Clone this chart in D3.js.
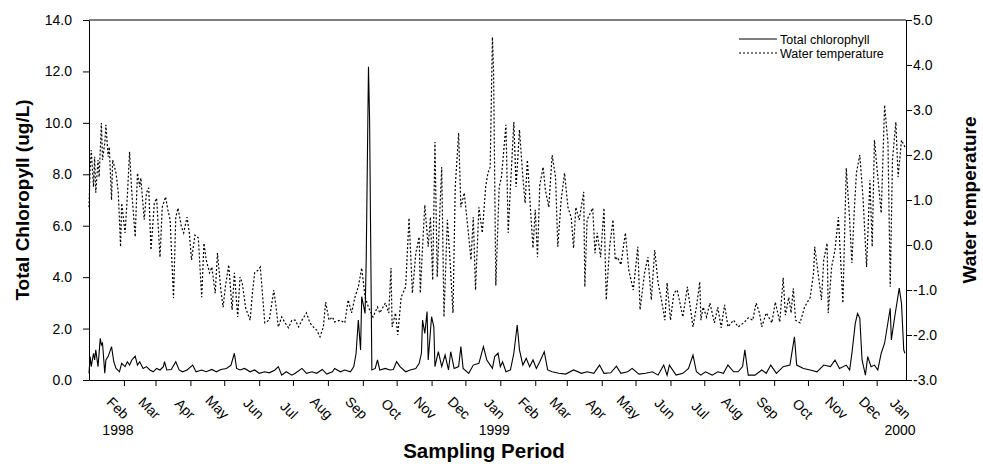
<!DOCTYPE html>
<html>
<head>
<meta charset="utf-8">
<script src="https://cdn.jsdelivr.net/npm/d3@7"></script>
<style>
    html, body { margin: 0; padding: 0; background: #fff; }
    #chart { width: 983px; height: 464px; }
    text { font-family: "Liberation Sans", Arial, sans-serif; fill: #000; }
</style>
</head>
<body>
<div id="chart"></div>
<script>
// day = days since 1998-01-01
const waterTemp = [
    [0,0.84],[1,1.67],[2,2.11],[4,1.29],[5,1.96],[6,1.16],[8,1.89],[9,1.51],[11,2.71],[12,1.89],
    [14,2.27],[15,2.67],[17,1.96],[18,2.18],[20,1.0],[21,1.89],[24,1.6],[26,1.16],[28,-0.04],[29,0.93],
    [32,0.27],[34,1.07],[36,2.07],[38,1.16],[41,0.18],[43,1.6],[45,1.29],[46,1.49],[49,0.56],[51,1.16],
    [53,1.27],[55,-0.11],[58,0.93],[60,1.04],[63,-0.27],[65,0.84],[68,1.07],[70,0.78],[72,0.56],[75,-1.18],
    [77,0.62],[79,0.82],[82,0.40],[84,0.27],[87,0.62],[89,0.27],[91,-0.33],[94,0.22],[97,0.16],[100,-1.16],
    [102,0.04],[104,-0.33],[107,-0.62],[109,-0.49],[112,-1.07],[114,-0.18],[117,-1.0],[119,-1.38],[121,-0.93],[124,-0.44],
    [127,-1.44],[129,-0.62],[132,-1.6],[134,-0.71],[136,-0.84],[139,-1.4],[143,-1.67],[145,-1.07],[147,-0.62],[150,-0.56],
    [152,-0.49],[156,-1.73],[160,-1.67],[164,-1.0],[166,-1.38],[168,-1.82],[171,-1.6],[174,-1.73],[177,-1.84],[180,-1.67],
    [183,-1.67],[186,-1.82],[189,-1.67],[193,-1.51],[196,-1.73],[199,-1.82],[202,-1.89],[205,-2.04],[208,-1.82],[210,-1.27],
    [213,-1.67],[216,-1.6],[218,-1.71],[223,-1.67],[227,-1.73],[230,-1.22],[233,-1.51],[236,-1.16],[239,-0.93],[242,-0.51],
    [245,-1.16],[248,-1.38],[252,-1.6],[256,-1.38],[258,-1.51],[263,-1.29],[266,-1.51],[268,-0.51],[269,-1.82],[272,-1.51],
    [274,-2.0],[277,-1.16],[281,-0.93],[284,0.6],[287,-1.07],[290,-0.18],[293,0.18],[294,-1.07],[296,-0.04],[298,0.89],
    [301,-0.04],[303,0.62],[305,-0.78],[307,2.29],[309,-0.71],[311,0.56],[313,1.73],[315,-1.6],[318,0.56],[320,-0.18],
    [323,-1.51],[325,1.29],[328,2.49],[330,0.84],[333,1.16],[337,0.18],[339,-0.33],[341,0.62],[343,-1.0],[346,0.84],
    [349,0.27],[352,1.29],[354,1.6],[356,1.73],[358,4.62],[359,3.89],[361,-0.9],
    [364,1.29],[366,1.51],[370,2.67],[372,0.27],[374,1.29],[377,2.73],[379,1.29],[382,2.56],[385,1.51],[387,0.93],
    [389,1.89],[392,0.71],[394,-0.07],[396,0.78],[398,-0.27],[400,1.33],[403,1.73],[405,1.22],[408,0.84],[411,2.0],
    [414,1.51],[416,-0.04],[419,1.0],[422,1.6],[425,0.84],[428,0.6],[430,-0.07],[432,0.84],[435,0.56],[439,1.18],
    [440,-0.93],[442,0.56],[447,0.82],[449,-0.18],[451,0.27],[454,-0.27],[457,0.82],[459,-1.22],[462,-0.04],[465,0.56],
    [467,-0.33],[469,-0.27],[472,-0.44],[476,0.27],[479,-0.56],[483,-1.0],[487,-0.04],[489,-1.44],[493,-0.62],[496,-0.27],
    [499,-1.22],[502,-0.11],[505,-0.84],[508,-1.22],[511,-1.67],[513,-0.84],[516,-1.67],[519,-1.07],[522,-1.0],[527,-1.6],
    [531,-0.93],[536,-1.82],[539,-1.38],[542,-0.82],[543,-1.67],
    [545,-1.38],[548,-1.6],[551,-1.29],[555,-1.73],[558,-1.38],[561,-1.84],[564,-1.33],[567,-1.82],[572,-1.67],[576,-1.82],
    [581,-1.73],[585,-1.62],[589,-1.67],[592,-1.29],[595,-1.51],[597,-1.82],[601,-1.51],[606,-1.73],[609,-1.27],[613,-1.71],
    [616,-0.73],[618,-1.56],[621,-1.16],[623,-1.51],[625,-0.96],[627,-1.67],[631,-1.73],[635,-1.38],[640,-1.16],[643,-0.62],
    [644,-0.04],[647,-0.62],[650,-1.22],[652,-0.33],[655,0.04],[656,-1.51],[659,-0.49],[662,-0.11],[665,0.62],[667,-0.33],
    [669,-1.29],[672,1.71],[675,0.56],[677,-0.4],[679,0.71],[681,1.6],[684,2.0],[687,1.0],[690,-0.49],[693,1.44],
    [695,-0.04],[697,2.33],[700,1.51],[703,0.71],[706,3.11],[709,2.27],[711,-0.93],[713,1.89],[716,2.73],[718,1.51],
    [721,2.33],[724,2.18]
];

const chlorophyll = [
    [0,0.26],[1,0.91],[2,0.52],[4,1.04],[5,0.78],[6,1.17],[8,0.52],[10,1.62],[11,1.36],[12,1.43],
    [14,0.26],[15,0.78],[17,0.91],[20,1.3],[22,0.71],[24,0.45],[27,0.32],[29,0.65],[32,0.52],[34,0.71],
    [36,0.58],[38,0.78],[41,0.93],[43,0.58],[45,0.71],[48,0.45],[51,0.52],[54,0.39],[57,0.32],[60,0.45],
    [63,0.39],[66,0.52],[67,0.71],[69,0.39],[73,0.41],[77,0.71],[80,0.39],[83,0.32],[87,0.39],[92,0.58],
    [95,0.32],[100,0.39],[104,0.32],[109,0.41],[113,0.32],[117,0.41],[122,0.45],[126,0.58],[129,1.04],[131,0.45],
    [134,0.39],[138,0.45],[143,0.32],[147,0.39],[151,0.26],[156,0.32],[160,0.28],[165,0.39],[168,0.52],[171,0.19],
    [175,0.32],[180,0.19],[183,0.26],[189,0.45],[193,0.26],[198,0.32],[202,0.26],[207,0.41],[211,0.23],[216,0.32],
    [218,0.45],[223,0.32],[227,0.39],[232,0.32],[235,0.52],[237,1.04],[239,2.33],[241,1.17],[242,3.24],[245,2.59],
    [246,4.67],[248,12.18],[249,10.11],[251,0.39],[254,0.45],[256,0.78],[258,0.39],[263,0.45],[267,0.39],[270,0.41],
    [273,0.71],[276,0.52],[281,0.32],[285,0.39],[290,0.45],[293,0.65],[295,1.04],[296,2.33],[298,1.81],[300,2.66],
    [301,0.78],[304,2.46],[306,2.07],[307,0.52],[310,1.1],[313,0.52],[316,0.97],[319,0.39],[321,1.1],[324,0.45],
    [328,0.52],[330,1.3],[332,0.45],[337,0.26],[341,0.58],[346,0.65],[350,1.3],[353,0.78],[358,0.45],[360,0.91],
    [363,1.04],[365,0.52],[367,0.71],[370,0.32],[374,0.39],[377,1.04],[380,2.14],[382,1.17],[385,0.58],[388,0.84],
    [391,0.52],[394,0.78],[397,0.45],[400,0.71],[404,1.1],[407,0.39],[411,0.32],[417,0.26],[423,0.23],[430,0.39],
    [437,0.26],[442,0.32],[448,0.26],[453,0.58],[457,0.26],[463,0.28],[468,0.54],[472,0.26],[478,0.32],[482,0.45],
    [488,0.23],[494,0.26],[500,0.32],[505,0.19],[510,0.58],[513,0.19],[515,0.58],[521,0.19],[527,0.26],[532,0.45],
    [536,0.97],[539,0.32],[543,0.19],[547,0.32],[553,0.19],[558,0.32],[563,0.26],[567,0.58],[572,0.32],[576,0.32],
    [580,0.52],[582,1.17],[585,0.19],[591,0.19],[597,0.39],[601,0.26],[605,0.58],[610,0.26],[616,0.52],[622,0.58],
    [626,1.68],[628,0.58],[634,0.45],[640,0.39],[646,0.32],[652,0.58],[658,0.52],[662,0.78],[666,0.45],[672,0.58],
    [675,0.39],[677,1.04],[680,2.2],[682,2.59],[684,2.4],[686,0.78],[689,0.19],[691,0.91],[694,0.52],[697,0.58],
    [700,0.39],[703,1.04],[706,1.43],[711,2.79],[712,1.56],[715,2.46],[719,3.57],[721,2.98],[723,1.17],[724,1.04]
];

const chlTicks = [0, 2, 4, 6, 8, 10, 12, 14];
const tempTicks = [-3, -2, -1, 0, 1, 2, 3, 4, 5];
const yearLabels = [
    { date: new Date(1998, 1, 1), label: '1998' },
    { date: new Date(1999, 0, 1), label: '1999' },
    { date: new Date(1999, 11, 27), label: '2000' }
];
const legendItems = ['Total chlorophyll', 'Water temperature'];

(function () {
    const width = 983;
    const height = 464;
    const margin = { top: 20, right: 77, bottom: 84, left: 89 };
    const innerW = width - margin.left - margin.right;
    const innerH = height - margin.top - margin.bottom;
    const start = new Date(1998, 0, 1);
    const end = new Date(1999, 11, 27);
    const toDate = d => d3.timeDay.offset(start, d);

    const svg = d3.select('#chart')
        .append('svg')
        .attr('width', width)
        .attr('height', height);

    const g = svg.append('g')
        .attr('transform', `translate(${margin.left},${margin.top})`);

    const x = d3.scaleTime().domain([start, end]).range([0, innerW]);
    const yL = d3.scaleLinear().domain([0, 14]).range([innerH, 0]);
    const yR = d3.scaleLinear().domain([-3, 5]).range([innerH, 0]);

    // top border
    g.append('line')
        .attr('x1', 0).attr('x2', innerW)
        .attr('y1', 0).attr('y2', 0)
        .attr('stroke', '#000').attr('stroke-width', 1);

    // left axis
    const left = g.append('g')
        .call(d3.axisLeft(yL).tickValues(chlTicks).tickSize(6).tickSizeOuter(0)
            .tickFormat(d => d.toFixed(1)));
    left.selectAll('text').attr('x', -17).style('font-size', '14px');

    // right axis
    const right = g.append('g')
        .attr('transform', `translate(${innerW},0)`)
        .call(d3.axisRight(yR).tickValues(tempTicks).tickSize(6).tickSizeOuter(0)
            .tickFormat(d => d.toFixed(1)));
    right.selectAll('text').attr('x', 7).style('font-size', '14px');

    // bottom axis
    const months = d3.timeMonth.range(new Date(1998, 1, 1), end);
    const bottom = g.append('g')
        .attr('transform', `translate(0,${innerH})`)
        .call(d3.axisBottom(x).tickValues(months).tickSize(6).tickSizeOuter(0)
            .tickFormat(d3.timeFormat('%b')));
    bottom.selectAll('text').remove();

    [left, right, bottom].forEach(a => {
        a.select('.domain').attr('stroke', '#000');
        a.selectAll('line').attr('stroke', '#000');
    });

    const monthLabels = months.map(d => ({ date: d, label: d3.timeFormat('%b')(d) }));
    monthLabels.push({ date: end, label: 'Jan' });

    g.append('g').selectAll('text')
        .data(monthLabels)
        .enter()
        .append('text')
        .attr('text-anchor', 'end')
        .attr('transform', d => `translate(${x(d.date) - 1},${innerH + 40}) rotate(45)`)
        .style('font-size', '14px')
        .text(d => d.label);

    g.append('g').selectAll('text')
        .data(yearLabels)
        .enter()
        .append('text')
        .attr('text-anchor', 'middle')
        .attr('x', d => x(d.date) - 6)
        .attr('y', innerH + 55)
        .style('font-size', '14px')
        .text(d => d.label);

    // lines
    const chlLine = d3.line()
        .x(d => x(toDate(d[0])))
        .y(d => yL(d[1]));

    const tempLine = d3.line()
        .x(d => x(toDate(d[0])))
        .y(d => yR(d[1]));

    g.append('path')
        .datum(waterTemp)
        .attr('d', tempLine)
        .attr('fill', 'none')
        .attr('stroke', '#000')
        .attr('stroke-width', 1.2)
        .attr('stroke-dasharray', '2,2');

    g.append('path')
        .datum(chlorophyll)
        .attr('d', chlLine)
        .attr('fill', 'none')
        .attr('stroke', '#000')
        .attr('stroke-width', 1.1);

    // legend
    const legend = g.append('g').attr('transform', `translate(${739 - margin.left},${39 - margin.top})`);
    legendItems.forEach((name, i) => {
        legend.append('line')
            .attr('x1', 0).attr('x2', 38)
            .attr('y1', i * 14).attr('y2', i * 14)
            .attr('stroke', '#000')
            .attr('stroke-width', 1.2)
            .attr('stroke-dasharray', i === 1 ? '2,2' : null);
        legend.append('text')
            .attr('x', 41)
            .attr('y', i * 14 + 4.5)
            .style('font-size', '12.5px')
            .text(name);
    });

    // axis titles
    svg.append('text')
        .attr('transform', `translate(29,${margin.top + innerH / 2}) rotate(-90)`)
        .attr('text-anchor', 'middle')
        .style('font-size', '19px')
        .style('font-weight', 'bold')
        .text('Total Chloropyll (ug/L)');

    svg.append('text')
        .attr('transform', `translate(976,${margin.top + innerH / 2}) rotate(-90)`)
        .attr('text-anchor', 'middle')
        .style('font-size', '19px')
        .style('font-weight', 'bold')
        .text('Water temperature');

    svg.append('text')
        .attr('x', 484)
        .attr('y', 458)
        .attr('text-anchor', 'middle')
        .style('font-size', '20.5px')
        .style('font-weight', 'bold')
        .text('Sampling Period');
})();
</script>
</body>
</html>
